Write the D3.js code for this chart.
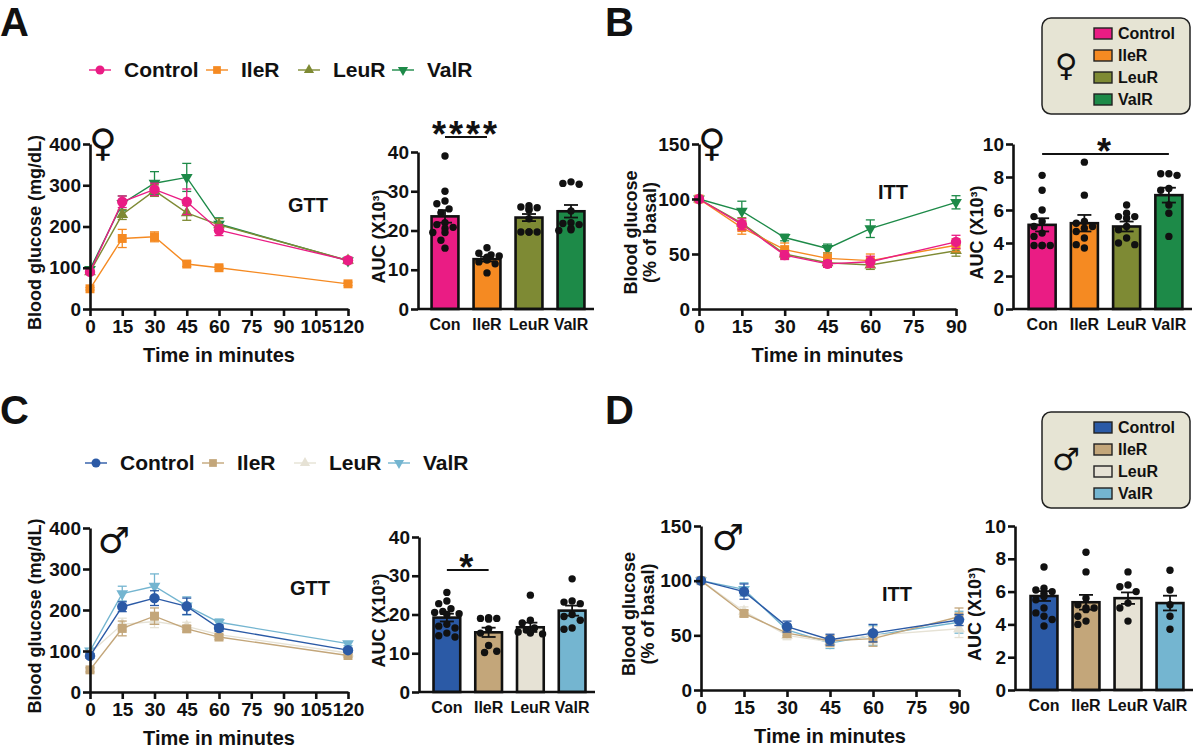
<!DOCTYPE html>
<html>
<head>
<meta charset="utf-8">
<script src="https://cdn.jsdelivr.net/npm/d3@7"></script>
<style>
  body { margin: 0; background: #fff; }
  svg { font-family: "Liberation Sans", Arial, sans-serif; font-weight: bold; }
</style>
</head>
<body>
<svg id="fig" width="1200" height="750"></svg>
<script>
// groups and labels
const groups = ["Control", "IleR", "LeuR", "ValR"];
const barLabels = ["Con", "IleR", "LeuR", "ValR"];
const femaleColors = ["#EA1C84", "#F58A22", "#7E8A34", "#1D8A48"];
const maleColors = ["#2B5AA6", "#C3A67A", "#E6E2D5", "#74B5D0"];

// time points and ticks
const gttTimes = [0, 15, 30, 45, 60, 120];
const ittTimes = [0, 15, 30, 45, 60, 90];
const gttXTicks = [0, 15, 30, 45, 60, 75, 90, 105, 120];
const ittXTicks = [0, 15, 30, 45, 60, 75, 90];
const gttYTicks = [0, 100, 200, 300, 400];
const ittYTicks = [0, 50, 100, 150];
const gttAucTicks = [0, 10, 20, 30, 40];
const ittAucTicks = [0, 2, 4, 6, 8, 10];

// female GTT (mg/dL), rows = Control, IleR, LeuR, ValR
const fGttMean = [
  [90, 260, 290, 260, 191, 118],
  [49, 171, 175, 109, 100, 61],
  [90, 229, 287, 233, 204, 118],
  [96, 256, 305, 319, 206, 117]
];
const fGttSem = [
  [4, 14, 15, 31, 13, 8],
  [3, 22, 12, 6, 4, 4],
  [4, 12, 14, 18, 15, 5],
  [5, 18, 28, 34, 15, 5]
];
// female ITT (% of basal)
const fIttMean = [
  [100, 77, 49, 41, 43, 61],
  [100, 74, 54, 46, 44, 58],
  [100, 78, 50, 42, 40, 53],
  [100, 89, 65, 55, 73, 97]
];
const fIttSem = [
  [1, 5, 4, 3, 5, 6],
  [1, 6, 6, 5, 6, 6],
  [1, 5, 4, 4, 4, 5],
  [1, 9, 3, 4, 8, 6]
];
// male GTT
const mGttMean = [
  [88, 208, 229, 209, 156, 102],
  [54, 155, 185, 154, 134, 89],
  [95, 165, 172, 160, 140, 95],
  [100, 240, 258, 210, 170, 118]
];
const mGttSem = [
  [6, 12, 18, 20, 8, 5],
  [5, 18, 20, 8, 6, 4],
  [5, 15, 15, 10, 8, 5],
  [6, 18, 30, 22, 8, 5]
];
// male ITT
const mIttMean = [
  [100, 90, 58, 46, 52, 64],
  [100, 70, 52, 45, 47, 67],
  [100, 72, 50, 44, 50, 56],
  [100, 92, 55, 43, 50, 62]
];
const mIttSem = [
  [1, 7, 5, 5, 8, 5],
  [1, 3, 4, 5, 7, 8],
  [1, 4, 4, 5, 8, 8],
  [1, 6, 5, 5, 9, 10]
];

// AUC bars (x10^3)
const fGttAucMean = [23.6, 12.7, 23.3, 24.9];
const fGttAucSem = [1.6, 0.6, 0.9, 1.6];
const fGttAucDots = [
  [39, 30, 27.5, 26.8, 25.5, 24.5, 22, 21.5, 20.8, 20.5, 19.5, 19.5, 17.5, 15.5],
  [15.6, 14.2, 13.8, 13.5, 13.2, 12.8, 12.5, 12, 11.5, 9.2],
  [26.3, 26, 25.8, 25.5, 25.2, 23, 19.6, 19.6, 19.6, 19.6],
  [32.4, 32, 31.8, 25, 22, 21.8, 21.5, 20.5, 20.2, 20]
];
const fIttAucMean = [5.1, 5.2, 5.0, 6.9];
const fIttAucSem = [0.4, 0.5, 0.3, 0.45];
const fIttAucDots = [
  [8.1, 7.2, 6.0, 5.6, 5.3, 5.0, 4.6, 4.4, 3.85, 3.85, 3.85, 3.85],
  [8.9, 6.9, 5.3, 5.2, 5.0, 4.9, 4.7, 4.3, 3.9, 3.7],
  [6.3, 5.8, 5.6, 5.6, 5.5, 5.0, 4.8, 4.3, 4.0, 3.9],
  [8.2, 8.2, 8.1, 7.3, 7.2, 6.3, 5.8, 4.4]
];
const mGttAucMean = [19.2, 15.4, 16.7, 21.0];
const mGttAucSem = [1.0, 1.2, 1.2, 1.3];
const mGttAucDots = [
  [25.7, 23.5, 22.8, 21.5, 20.8, 20.5, 20.2, 20, 17.5, 17, 16.5, 15.2, 14.5, 14.2],
  [19.2, 19, 19, 18.8, 16.3, 15.2, 12, 10.2, 10.5],
  [25, 18.5, 17.8, 16.5, 16, 15.5, 15, 15.2],
  [29.2, 23.5, 23.2, 22.8, 20, 19.5, 18.5, 16.5, 16.2]
];
const mIttAucMean = [5.73, 5.35, 5.6, 5.3];
const mIttAucSem = [0.3, 0.45, 0.35, 0.45];
const mIttAucDots = [
  [7.5, 6.2, 6.1, 6.0, 5.9, 5.7, 5.5, 5.0, 4.7, 4.5, 4.3, 3.9],
  [8.4, 7.2, 5.6, 5.2, 5.0, 5.0, 4.9, 4.5, 4.2, 4.0],
  [7.2, 6.4, 6.3, 6.0, 5.3, 5.0, 4.2],
  [7.3, 6.1, 5.2, 4.5, 3.7]
];

const svg = d3.select("#fig");
const ink = "#111";
const markerShapes = [d3.symbolCircle, d3.symbolSquare, d3.symbolTriangle, d3.symbolTriangle];
const markerSizes = [85, 80, 60, 60];
const markerRot = [0, 0, 0, 180];

function styleAxis(g, size) {
  g.attr("font-family", null).attr("font-size", null);
  g.selectAll(".domain, .tick line").attr("stroke", ink).attr("stroke-width", 2.6);
  g.selectAll("text").attr("fill", ink).attr("font-size", size).attr("font-weight", "bold");
}

function yTitle(lines, x, y, size) {
  const t = svg.append("text")
    .attr("transform", `translate(${x},${y}) rotate(-90)`)
    .attr("text-anchor", "middle")
    .attr("font-size", size)
    .attr("fill", ink);
  lines.forEach((l, i) => t.append("tspan").attr("x", 0).attr("dy", i ? "1.05em" : 0).text(l));
}

function sexSymbol(sym, x, y, size) {
  svg.append("text").attr("x", x).attr("y", y)
    .attr("text-anchor", "middle")
    .attr("font-family", "DejaVu Sans")
    .attr("font-weight", "normal")
    .attr("font-size", size)
    .attr("fill", ink)
    .text(sym);
}

function drawLinePanel(p) {
  const x = d3.scaleLinear().domain([0, p.xMax]).range([p.left, p.right]);
  const y = d3.scaleLinear().domain([0, p.yMax]).range([p.bottom, p.top]);
  const g = svg.append("g");

  [3, 2, 1, 0].forEach(i => {
    const col = p.colors[i];
    const pts = p.times.map((t, j) => ({t, m: p.means[i][j], s: p.sems[i][j]}));
    const eb = g.append("g").attr("stroke", col).attr("stroke-width", 1.3);
    pts.forEach(d => {
      const cx = x(d.t);
      eb.append("line").attr("x1", cx).attr("x2", cx).attr("y1", y(d.m - d.s)).attr("y2", y(d.m + d.s));
      [d.m - d.s, d.m + d.s].forEach(v => eb.append("line")
        .attr("x1", cx - 4.5).attr("x2", cx + 4.5).attr("y1", y(v)).attr("y2", y(v)));
    });
    g.append("path").datum(pts)
      .attr("d", d3.line().x(d => x(d.t)).y(d => y(d.m)))
      .attr("fill", "none").attr("stroke", col).attr("stroke-width", 1.4);
    g.selectAll(null).data(pts).join("path")
      .attr("transform", d => `translate(${x(d.t)},${y(d.m)}) rotate(${markerRot[i]})`)
      .attr("d", d3.symbol(markerShapes[i], markerSizes[i]))
      .attr("fill", col);
  });

  svg.append("g").attr("transform", `translate(0,${p.bottom})`)
    .call(d3.axisBottom(x).tickValues(p.xTicks).tickSize(7).tickSizeOuter(0).tickPadding(4))
    .call(s => styleAxis(s, 19));
  svg.append("g").attr("transform", `translate(${p.left},0)`)
    .call(d3.axisLeft(y).tickValues(p.yTicks).tickSize(7).tickSizeOuter(0).tickPadding(2))
    .call(s => styleAxis(s, 19));

  svg.append("text").attr("x", (p.left + p.right) / 2).attr("y", p.bottom + 53)
    .attr("text-anchor", "middle").attr("font-size", 20).attr("fill", ink).text("Time in minutes");
  svg.append("text").attr("x", p.testX).attr("y", p.testY)
    .attr("font-size", 20).attr("fill", ink).text(p.test);
  yTitle(p.yTitle, p.yTitleX, (p.top + p.bottom) / 2 + 6, 18);
}

function swarmX(values, y, cx, r, half) {
  const placed = [];
  const step = r * 1.1;
  return values.map(v => {
    const py = y(v);
    let best = cx;
    for (let k = 0; k < 14; k++) {
      const off = (k % 2 ? -1 : 1) * Math.ceil(k / 2) * step;
      if (Math.abs(off) > half) break;
      const px = cx + off;
      if (placed.every(q => Math.hypot(q[0] - px, q[1] - py) >= 2 * r + 0.6)) { best = px; break; }
    }
    placed.push([best, py]);
    return best;
  });
}

function drawBarPanel(p) {
  const x = d3.scaleBand().domain(barLabels).range([p.bandL, p.bandR]).paddingInner(0.36).paddingOuter(0.18);
  const y = d3.scaleLinear().domain([0, p.yMax]).range([p.bottom, p.top]);
  const bw = x.bandwidth();
  const g = svg.append("g");

  g.selectAll("rect").data(barLabels).join("rect")
    .attr("x", d => x(d)).attr("width", bw)
    .attr("y", (d, i) => y(p.mean[i]))
    .attr("height", (d, i) => y(0) - y(p.mean[i]))
    .attr("fill", (d, i) => p.colors[i])
    .attr("stroke", ink).attr("stroke-width", 2.6);

  barLabels.forEach((lab, i) => {
    const cx = x(lab) + bw / 2;
    const m = p.mean[i], s = p.sem[i];
    const eb = g.append("g").attr("stroke", ink).attr("stroke-width", 1.8);
    eb.append("line").attr("x1", cx).attr("x2", cx).attr("y1", y(m - s)).attr("y2", y(m + s));
    [m - s, m + s].forEach(v => eb.append("line")
      .attr("x1", cx - 7).attr("x2", cx + 7).attr("y1", y(v)).attr("y2", y(v)));
    const xs = swarmX(p.dots[i], y, cx, 3.7, bw / 2 - 1);
    g.selectAll(null).data(p.dots[i]).join("circle")
      .attr("cx", (d, j) => xs[j]).attr("cy", d => y(d))
      .attr("r", 3.7).attr("fill", ink);
  });

  svg.append("g").attr("transform", `translate(${p.axisX},0)`)
    .call(d3.axisLeft(y).tickValues(p.yTicks).tickSize(7).tickSizeOuter(0).tickPadding(2))
    .call(s => styleAxis(s, 19));
  const xa = svg.append("g").attr("transform", `translate(0,${p.bottom})`)
    .call(d3.axisBottom(x).tickSize(0).tickPadding(10))
    .call(s => styleAxis(s, 16));
  xa.select(".domain").remove();
  svg.append("line").attr("x1", p.axisX).attr("x2", p.bandR + 2)
    .attr("y1", y(0)).attr("y2", y(0)).attr("stroke", ink).attr("stroke-width", 2.6);

  if (p.sig) {
    const x1 = x(p.sig.from) + bw / 2, x2 = x(p.sig.to) + bw / 2, ly = y(p.sig.level);
    svg.append("line").attr("x1", x1).attr("x2", x2).attr("y1", ly).attr("y2", ly)
      .attr("stroke", ink).attr("stroke-width", 2);
    svg.append("text").attr("x", (x1 + x2) / 2).attr("y", ly + 10)
      .attr("text-anchor", "middle").attr("font-size", 36).attr("letter-spacing", 3)
      .attr("fill", ink).text(p.sig.label);
  }
  yTitle(["AUC (X10³)"], p.yTitleX, (p.top + p.bottom) / 2 + 6, 18);
}

function lineLegend(colors, x0, yMid, offsets) {
  groups.forEach((name, i) => {
    const mx = x0 + offsets[i];
    svg.append("line").attr("x1", mx - 11).attr("x2", mx + 11).attr("y1", yMid).attr("y2", yMid)
      .attr("stroke", colors[i]).attr("stroke-width", 1.4);
    svg.append("path").attr("transform", `translate(${mx},${yMid}) rotate(${markerRot[i]})`)
      .attr("d", d3.symbol(markerShapes[i], markerSizes[i] * 0.75)).attr("fill", colors[i]);
    svg.append("text").attr("x", mx + 24).attr("y", yMid + 7).attr("font-size", 21)
      .attr("fill", ink).text(name);
  });
}

function boxLegend(colors, x, y, sym) {
  svg.append("rect").attr("x", x).attr("y", y).attr("width", 148).attr("height", 96)
    .attr("rx", 9).attr("fill", "#E6E4D4").attr("stroke", "#222").attr("stroke-width", 1.5);
  groups.forEach((name, i) => {
    const ry = y + 15 + i * 22;
    svg.append("rect").attr("x", x + 52).attr("y", ry - 5).attr("width", 18).attr("height", 11)
      .attr("fill", colors[i]).attr("stroke", "#222").attr("stroke-width", 1.4);
    svg.append("text").attr("x", x + 76).attr("y", ry + 6).attr("font-size", 16)
      .attr("fill", ink).text(name);
  });
  sexSymbol(sym, x + 24, y + 58, 31);
}

// panel letters
[["A", 0, 36], ["B", 605, 36], ["C", 0, 424], ["D", 605, 424]].forEach(([l, x, y]) =>
  svg.append("text").attr("x", x).attr("y", y).attr("font-size", 40).attr("fill", ink).text(l));

const legendOffsets = [0, 117, 209, 303];

// A
lineLegend(femaleColors, 100, 70, legendOffsets);
drawLinePanel({left: 90, right: 348, top: 144, bottom: 309, xMax: 120, yMax: 400,
  xTicks: gttXTicks, yTicks: gttYTicks, times: gttTimes, means: fGttMean, sems: fGttSem,
  colors: femaleColors, test: "GTT", testX: 288, testY: 212,
  yTitle: ["Blood glucose (mg/dL)"], yTitleX: 41});
sexSymbol("♀", 103, 156, 38);
drawBarPanel({axisX: 418, bandL: 424, bandR: 592, top: 152, bottom: 309, yMax: 40,
  yTicks: gttAucTicks, mean: fGttAucMean, sem: fGttAucSem, dots: fGttAucDots,
  colors: femaleColors, yTitleX: 385, sig: {from: "Con", to: "IleR", level: 43.8, label: "****"}});

// B
drawLinePanel({left: 699, right: 956, top: 144, bottom: 309, xMax: 90, yMax: 150,
  xTicks: ittXTicks, yTicks: ittYTicks, times: ittTimes, means: fIttMean, sems: fIttSem,
  colors: femaleColors, test: "ITT", testX: 878, testY: 199,
  yTitle: ["Blood glucose", "(% of basal)"], yTitleX: 637});
sexSymbol("♀", 712, 156, 38);
drawBarPanel({axisX: 1013, bandL: 1021, bandR: 1190, top: 144, bottom: 309, yMax: 10,
  yTicks: ittAucTicks, mean: fIttAucMean, sem: fIttAucSem, dots: fIttAucDots,
  colors: femaleColors, yTitleX: 983, sig: {from: "Con", to: "ValR", level: 9.4, label: "*"}});
boxLegend(femaleColors, 1042, 18, "♀");

// C
lineLegend(maleColors, 96, 463, legendOffsets);
drawLinePanel({left: 90, right: 348, top: 528, bottom: 692, xMax: 120, yMax: 400,
  xTicks: gttXTicks, yTicks: gttYTicks, times: gttTimes, means: mGttMean, sems: mGttSem,
  colors: maleColors, test: "GTT", testX: 290, testY: 595,
  yTitle: ["Blood glucose (mg/dL)"], yTitleX: 41});
sexSymbol("♂", 114, 553, 36);
drawBarPanel({axisX: 419, bandL: 426, bandR: 593, top: 537, bottom: 692, yMax: 40,
  yTicks: gttAucTicks, mean: mGttAucMean, sem: mGttAucSem, dots: mGttAucDots,
  colors: maleColors, yTitleX: 385, sig: {from: "Con", to: "IleR", level: 31.5, label: "*"}});

// D
drawLinePanel({left: 701, right: 959, top: 526, bottom: 690, xMax: 90, yMax: 150,
  xTicks: ittXTicks, yTicks: ittYTicks, times: ittTimes, means: mIttMean, sems: mIttSem,
  colors: maleColors, test: "ITT", testX: 882, testY: 601,
  yTitle: ["Blood glucose", "(% of basal)"], yTitleX: 635});
sexSymbol("♂", 728, 550, 36);
drawBarPanel({axisX: 1015, bandL: 1023, bandR: 1191, top: 526, bottom: 690, yMax: 10,
  yTicks: ittAucTicks, mean: mIttAucMean, sem: mIttAucSem, dots: mIttAucDots,
  colors: maleColors, yTitleX: 981, sig: null});
boxLegend(maleColors, 1042, 412, "♂");
</script>
</body>
</html>
